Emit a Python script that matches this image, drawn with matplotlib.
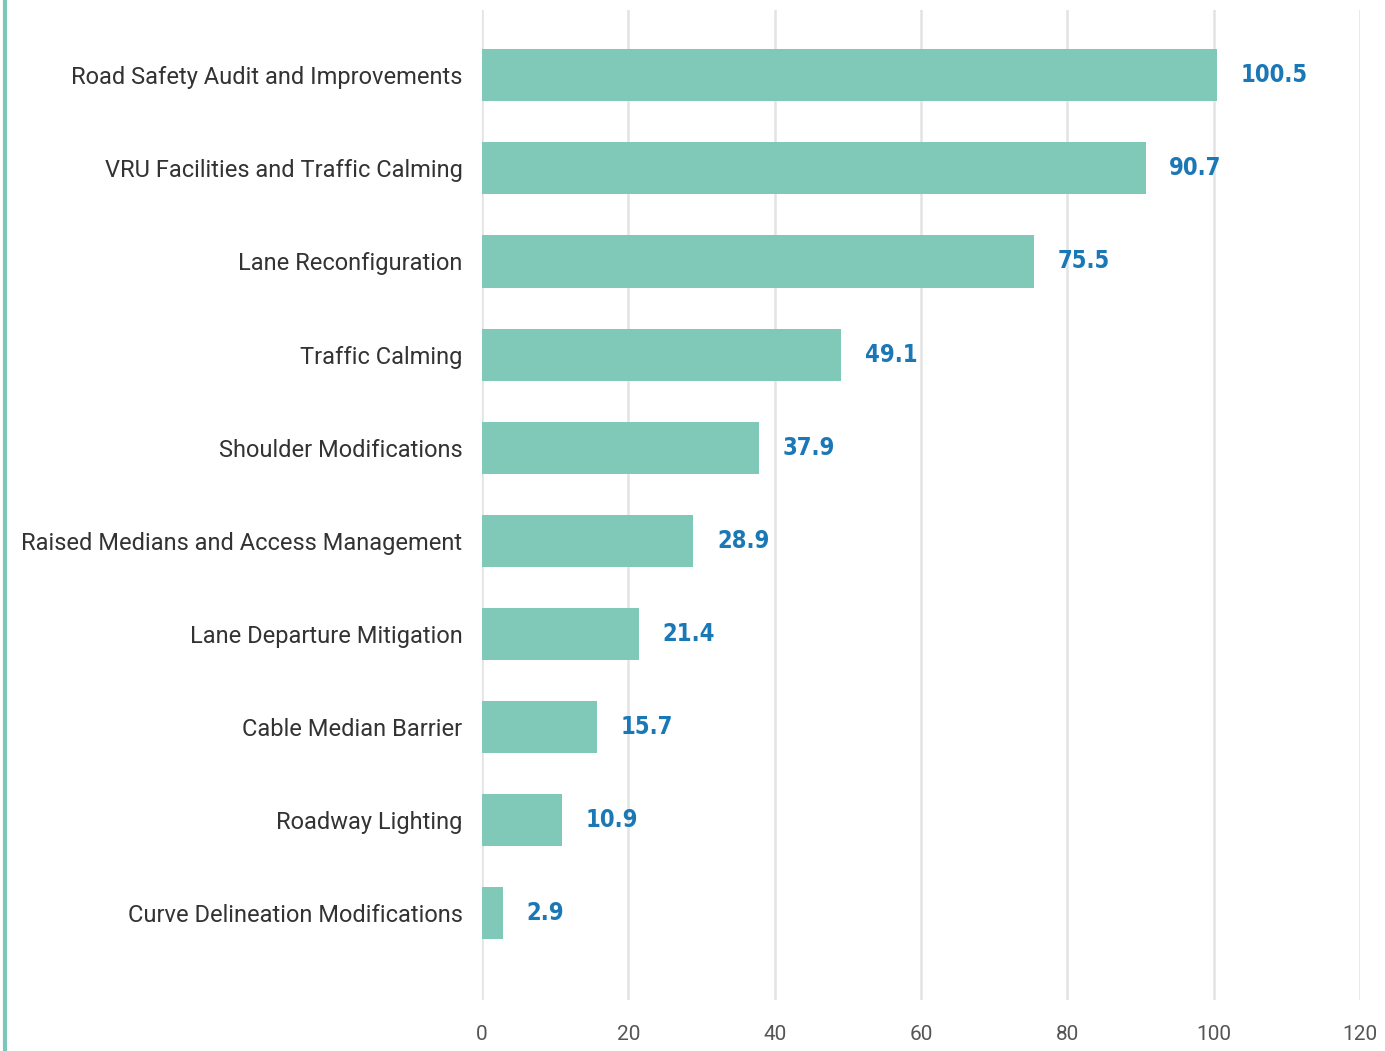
import matplotlib
matplotlib.use("Agg")
import matplotlib.pyplot as plt
from matplotlib.lines import Line2D
from matplotlib import font_manager

categories = [
    "Road Safety Audit and Improvements",
    "VRU Facilities and Traffic Calming",
    "Lane Reconfiguration",
    "Traffic Calming",
    "Shoulder Modifications",
    "Raised Medians and Access Management",
    "Lane Departure Mitigation",
    "Cable Median Barrier",
    "Roadway Lighting",
    "Curve Delineation Modifications",
]
values = [100.5, 90.7, 75.5, 49.1, 37.9, 28.9, 21.4, 15.7, 10.9, 2.9]
xticks = [0, 20, 40, 60, 80, 100, 120]

names = {f.name for f in font_manager.fontManager.ttflist}
cond = [f for f in font_manager.fontManager.ttflist if f.stretch not in (500, "normal") and f.weight in (700, "bold")]
print(sorted(names))
print([(f.name, f.stretch, f.weight) for f in cond])

fig = plt.figure(figsize=(13.85, 10.51), dpi=100)
ax = fig.add_axes([482/1385, 1 - 1000/1051, (1360-482)/1385, 990/1051])

y = list(range(len(categories)))
ax.barh(y, values, height=0.56, color="#80c8b8", zorder=2)
ax.set_ylim(len(categories) - 1 + 0.93, -0.70)
ax.set_xlim(0, 120)
ax.set_xticks(xticks)
ax.set_xticklabels([str(t) for t in xticks], fontsize=15, color="#555555", family="Roboto")
ax.set_yticks(y)
ax.set_yticklabels(categories, fontsize=17, color="#333333", family="Roboto")
ax.tick_params(axis="y", length=0, pad=14)
ax.tick_params(axis="x", length=0, pad=18)
ax.grid(axis="x", color="#e3e3e3", linewidth=1.8, zorder=0)
for s in ax.spines.values():
    s.set_visible(False)

for yi, v in zip(y, values):
    ax.annotate(f"{v}", xy=(v, yi), xytext=(17, 0), textcoords="offset points",
                va="center", ha="left", fontsize=17, fontweight="bold",
                fontstretch="condensed",
                color="#1b78b6", family=["DejaVu Sans"])

fig.add_artist(Line2D([5/1385, 5/1385], [0, 1], color="#7cc8b8", linewidth=3,
                      transform=fig.transFigure))

fig.savefig("out.png", dpi=100)
